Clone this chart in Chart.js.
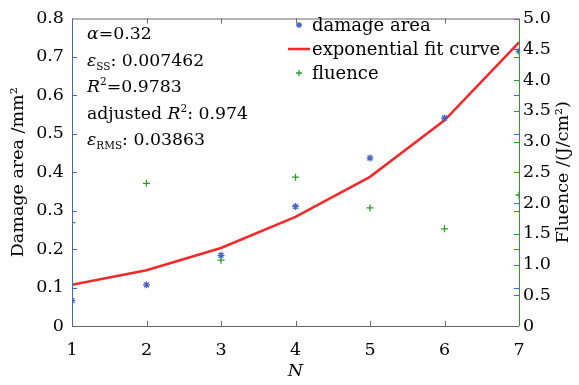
<!DOCTYPE html>
<html><head><meta charset="utf-8">
<script src="https://cdn.jsdelivr.net/npm/chart.js@4"></script>
<style>html,body{margin:0;padding:0;background:#fff}#w{width:579px;height:385px}</style>
</head><body><div id="w"><canvas id="c" width="579" height="385"></canvas></div>
<script>
const N = [1, 2, 3, 4, 5, 6, 7];
const damageArea = [0.066, 0.107, 0.184, 0.311, 0.437, 0.541, 0.715];
const fitCurve = [0.107, 0.145, 0.203, 0.284, 0.388, 0.535, 0.738];
const fluence = [1.68, 2.32, 1.07, 2.42, 1.92, 1.58, 2.13];
const leftTicks = [0, 0.1, 0.2, 0.3, 0.4, 0.5, 0.6, 0.7, 0.8];
const rightTicks = [0, 0.5, 1.0, 1.5, 2.0, 2.5, 3.0, 3.5, 4.0, 4.5, 5.0];
const seriesNames = ['damage area', 'exponential fit curve', 'fluence'];

const SERIF = '"DejaVu Serif", serif';
const BLUE = '#4a64c4', GREEN = '#2f9a2f', RED = '#f02a2a', GRAY = '#666';

function pts(ys) { return N.map((x, i) => ({x: x, y: ys[i]})); }
function fmt(v) { return v === 0 ? '0' : v.toFixed(1); }

function drawStar(ctx, x, y, r, color) {
  ctx.save(); ctx.strokeStyle = color; ctx.lineWidth = 1.4;
  ctx.beginPath();
  for (let k = 0; k < 4; k++) {
    const a = k * Math.PI / 4;
    ctx.moveTo(x - r * Math.cos(a), y - r * Math.sin(a));
    ctx.lineTo(x + r * Math.cos(a), y + r * Math.sin(a));
  }
  ctx.stroke(); ctx.restore();
}
function drawCross(ctx, x, y, r, color) {
  ctx.save(); ctx.strokeStyle = color; ctx.lineWidth = 1.3;
  ctx.beginPath(); ctx.moveTo(x - r, y); ctx.lineTo(x + r, y);
  ctx.moveTo(x, y - r); ctx.lineTo(x, y + r); ctx.stroke(); ctx.restore();
}

const framePlugin = {
  id: 'frame',
  afterDraw(chart) {
    const ctx = chart.ctx, a = chart.chartArea;
    const xs = chart.scales.x, yl = chart.scales.y, yr = chart.scales.y1;
    const T = 5;
    ctx.save();
    ctx.lineWidth = 1;
    ctx.strokeStyle = GRAY;
    ctx.beginPath();
    ctx.moveTo(a.left, a.top + 0.5); ctx.lineTo(a.right, a.top + 0.5);
    ctx.moveTo(a.left, a.bottom + 0.5); ctx.lineTo(a.right, a.bottom + 0.5);
    N.slice(1, -1).forEach(n => {
      const px = Math.round(xs.getPixelForValue(n)) + 0.5;
      ctx.moveTo(px, a.top); ctx.lineTo(px, a.top + T);
      ctx.moveTo(px, a.bottom); ctx.lineTo(px, a.bottom - T);
    });
    ctx.stroke();
    ctx.strokeStyle = BLUE;
    ctx.beginPath();
    ctx.moveTo(a.left + 0.5, a.top); ctx.lineTo(a.left + 0.5, a.bottom);
    leftTicks.slice(1, -1).forEach(v => {
      const py = Math.round(yl.getPixelForValue(v)) + 0.5;
      ctx.moveTo(a.left, py); ctx.lineTo(a.left + T, py);
      ctx.moveTo(a.right, py); ctx.lineTo(a.right - T, py);
    });
    ctx.stroke();
    ctx.strokeStyle = GREEN;
    ctx.beginPath();
    ctx.moveTo(a.right + 0.5, a.top); ctx.lineTo(a.right + 0.5, a.bottom);
    rightTicks.slice(1).forEach(v => {
      const py = Math.round(yr.getPixelForValue(v)) + 0.5;
      ctx.moveTo(a.right, py); ctx.lineTo(a.right - T, py);
    });
    ctx.stroke();

    ctx.fillStyle = '#000';
    ctx.font = '17.5px ' + SERIF;
    ctx.textAlign = 'center'; ctx.textBaseline = 'middle';
    ctx.translate(563, (a.top + a.bottom) / 2);
    ctx.rotate(-Math.PI / 2);
    ctx.fillText('Fluence /(J/cm²)', 0, 0);
    ctx.restore();

    ctx.save();
    ctx.font = '18px ' + SERIF;
    ctx.fillStyle = '#000'; ctx.textBaseline = 'middle'; ctx.textAlign = 'left';
    const lx = 312, rows = [25, 49, 73];
    drawStar(ctx, 299, rows[0], 3, BLUE);
    ctx.strokeStyle = RED; ctx.lineWidth = 2.5;
    ctx.beginPath(); ctx.moveTo(288, rows[1]); ctx.lineTo(310, rows[1]); ctx.stroke();
    drawCross(ctx, 299, rows[2], 3, GREEN);
    seriesNames.forEach((s, i) => ctx.fillText(s, lx, rows[i] + 1));
    ctx.restore();

    ctx.save();
    ctx.fillStyle = '#000'; ctx.textBaseline = 'alphabetic'; ctx.textAlign = 'left';
    const F = '17.3px ' + SERIF, FI = 'italic 17.3px ' + SERIF, FS = '10.5px ' + SERIF;
    const lines = [
      [[FI, 'α', 0], [F, '=0.32', 0]],
      [[FI, 'ε', 0], [FS, 'SS', 4], [F, ': 0.007462', 0]],
      [[FI, 'R', 0], [FS, '2', -7], [F, '=0.9783', 0]],
      [[F, 'adjusted ', 0], [FI, 'R', 0], [FS, '2', -7], [F, ': 0.974', 0]],
      [[FI, 'ε', 0], [FS, 'RMS', 4], [F, ': 0.03863', 0]]
    ];
    const base = [39, 66, 92, 119, 145];
    lines.forEach((runs, i) => {
      let x = 87;
      runs.forEach(r => {
        ctx.font = r[0];
        ctx.fillText(r[1], x, base[i] + r[2]);
        x += ctx.measureText(r[1]).width;
      });
    });
    ctx.restore();
  }
};

new Chart(document.getElementById('c'), {
  type: 'line',
  data: {
    datasets: [
      { label: seriesNames[0], data: pts(damageArea), yAxisID: 'y', showLine: false,
        pointStyle: 'star', pointRadius: 3.5, borderColor: BLUE, backgroundColor: BLUE, pointBorderWidth: 1.3 },
      { label: seriesNames[1], data: pts(fitCurve), yAxisID: 'y', borderColor: RED, borderWidth: 2.5,
        pointRadius: 0, tension: 0, fill: false },
      { label: seriesNames[2], data: pts(fluence), yAxisID: 'y1', showLine: false,
        pointStyle: 'cross', pointRadius: 3.5, borderColor: GREEN, backgroundColor: GREEN, pointBorderWidth: 1.3 }
    ]
  },
  options: {
    responsive: false, animation: false,
    layout: { padding: { top: 13, left: 0, right: 0, bottom: 0 } },
    plugins: { legend: { display: false }, tooltip: { enabled: false } },
    scales: {
      x: {
        type: 'linear', min: 1, max: 7,
        afterFit(s) { s.height = 59; },
        afterBuildTicks(s) { s.ticks = N.map(v => ({value: v})); },
        grid: { display: false, drawTicks: false }, border: { display: false },
        ticks: { color: '#000', font: { family: SERIF, size: 17.5 }, padding: 14, maxRotation: 0 },
        title: { display: true, text: 'N', color: '#000', font: { family: SERIF, size: 17.5, style: 'italic' },
                 padding: { top: 0, bottom: 3 } }
      },
      y: {
        position: 'left', min: 0, max: 0.8,
        afterFit(s) { s.width = 72; },
        afterBuildTicks(s) { s.ticks = leftTicks.map(v => ({value: v})); },
        grid: { display: false, drawTicks: false }, border: { display: false },
        ticks: { color: '#000', font: { family: SERIF, size: 17.5 }, padding: 8, callback: v => fmt(v) },
        title: { display: true, text: 'Damage area /mm²', color: '#000', font: { family: SERIF, size: 17.5 },
                 padding: { top: 8, bottom: 0 } }
      },
      y1: {
        position: 'right', min: 0, max: 5,
        afterFit(s) { s.width = 60; },
        afterBuildTicks(s) { s.ticks = rightTicks.map(v => ({value: v})); },
        grid: { display: false, drawTicks: false }, border: { display: false },
        ticks: { color: '#000', font: { family: SERIF, size: 17.5 }, padding: 4, callback: v => fmt(v) }
      }
    }
  },
  plugins: [framePlugin]
});
</script></body></html>
